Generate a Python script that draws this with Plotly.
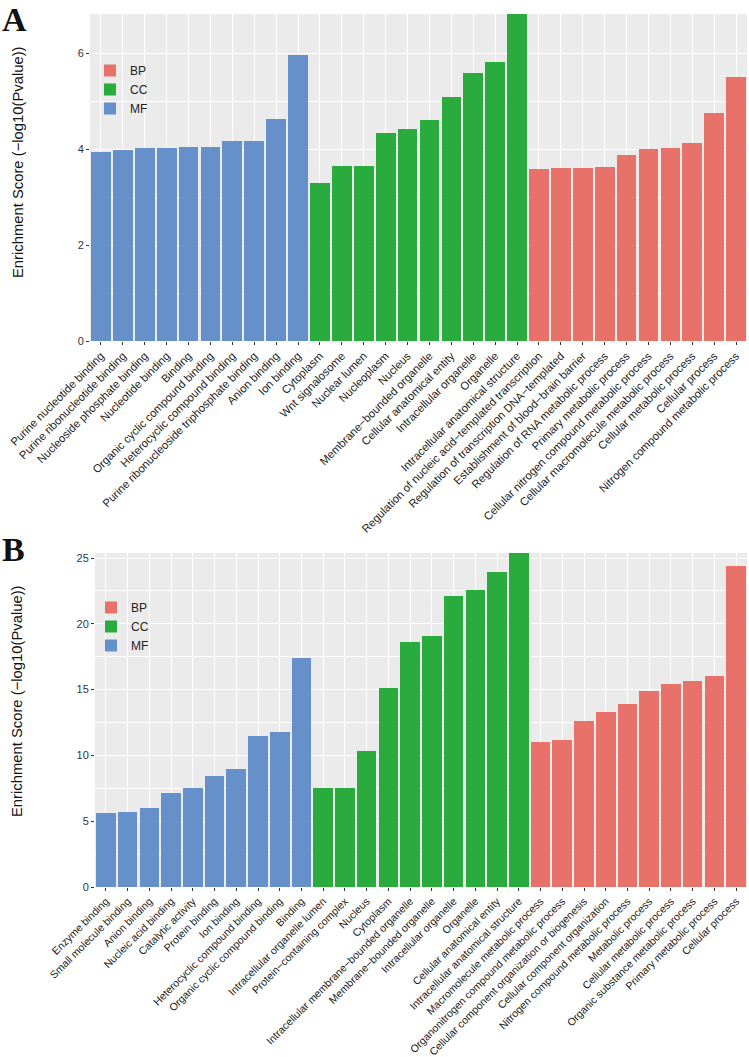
import plotly.graph_objects as go

# ---------------- Panel A data ----------------
a_mf_terms = ["Purine nucleotide binding", "Purine ribonucleotide binding",
              "Nucleoside phosphate binding", "Nucleotide binding", "Binding",
              "Organic cyclic compound binding", "Heterocyclic compound binding",
              "Purine ribonucleoside triphosphate binding", "Anion binding", "Ion binding"]
a_mf_scores = [3.95, 3.98, 4.02, 4.02, 4.04, 4.05, 4.17, 4.18, 4.64, 5.96]

a_cc_terms = ["Cytoplasm", "Wnt signalosome", "Nuclear lumen", "Nucleoplasm", "Nucleus",
              "Membrane−bounded organelle", "Cellular anatomical entity",
              "Intracellular organelle", "Organelle", "Intracellular anatomical structure"]
a_cc_scores = [3.30, 3.65, 3.65, 4.34, 4.42, 4.61, 5.09, 5.59, 5.82, 6.82]

a_bp_terms = ["Regulation of nucleic acid−templated transcription",
              "Regulation of transcription DNA−templated",
              "Establishment of blood−brain barrier",
              "Regulation of RNA metabolic process", "Primary metabolic process",
              "Cellular nitrogen compound metabolic process",
              "Cellular macromolecule metabolic process", "Cellular metabolic process",
              "Cellular process", "Nitrogen compound metabolic process"]
a_bp_scores = [3.58, 3.60, 3.60, 3.63, 3.88, 4.00, 4.02, 4.13, 4.75, 5.50]

# ---------------- Panel B data ----------------
b_mf_terms = ["Enzyme binding", "Small molecule binding", "Anion binding",
              "Nucleic acid binding", "Catalytic activity", "Protein binding",
              "Ion binding", "Heterocyclic compound binding",
              "Organic cyclic compound binding", "Binding"]
b_mf_scores = [5.63, 5.71, 6.04, 7.16, 7.54, 8.43, 8.93, 11.50, 11.75, 17.39]

b_cc_terms = ["Intracellular organelle lumen", "Protein−containing complex", "Nucleus",
              "Cytoplasm", "Intracellular membrane−bounded organelle",
              "Membrane−bounded organelle", "Intracellular organelle", "Organelle",
              "Cellular anatomical entity", "Intracellular anatomical structure"]
b_cc_scores = [7.49, 7.54, 10.33, 15.15, 18.65, 19.09, 22.13, 22.59, 23.96, 25.38]

b_bp_terms = ["Macromolecule metabolic process",
              "Organonitrogen compound metabolic process",
              "Cellular component organization or biogenesis",
              "Cellular component organization", "Nitrogen compound metabolic process",
              "Metabolic process", "Cellular metabolic process",
              "Organic substance metabolic process", "Primary metabolic process",
              "Cellular process"]
b_bp_scores = [11.04, 11.19, 12.59, 13.32, 13.91, 14.87, 15.43, 15.63, 16.07, 24.42]

colors = {"BP": "#E8716A", "CC": "#29AB3E", "MF": "#6590C9"}
ytitle = "Enrichment Score (−log10(Pvalue))"
FONT = "Liberation Sans, Arial, sans-serif"

W, H = 749, 1057

def px_x(p):
    return p / W

def px_y(p):
    return 1 - p / H

fig = go.Figure()

panels = [
    dict(xa="x", ya="y", legend="legend",
         groups=[("BP", a_bp_terms, a_bp_scores), ("CC", a_cc_terms, a_cc_scores),
                 ("MF", a_mf_terms, a_mf_scores)],
         order=a_mf_terms + a_cc_terms + a_bp_terms),
    dict(xa="x2", ya="y2", legend="legend2",
         groups=[("BP", b_bp_terms, b_bp_scores), ("CC", b_cc_terms, b_cc_scores),
                 ("MF", b_mf_terms, b_mf_scores)],
         order=b_mf_terms + b_cc_terms + b_bp_terms),
]

for p in panels:
    for name, terms, scores in p["groups"]:
        fig.add_trace(go.Bar(x=terms, y=scores, name=name, xaxis=p["xa"], yaxis=p["ya"],
                             marker=dict(color=colors[name], line=dict(width=0)),
                             legend=p["legend"], opacity=1))

axis_common = dict(showline=False, zeroline=False, ticks="outside", ticklen=3,
                   tickcolor="#333333", gridcolor="white", gridwidth=1.2,
                   automargin=False)

fig.update_layout(
    width=W, height=H,
    margin=dict(l=0, r=0, t=0, b=0, autoexpand=False),
    paper_bgcolor="white",
    plot_bgcolor="#EBEBEB",
    barmode="stack",
    bargap=0.1,
    font=dict(family=FONT, color="#222222"),
    xaxis=dict(domain=[px_x(90), px_x(747)], anchor="y", type="category",
               categoryorder="array", categoryarray=panels[0]["order"],
               range=[-0.5, 29.5], tickangle=-45, showgrid=True,
               tickfont=dict(size=11.3, color="#222222"), **axis_common),
    yaxis=dict(domain=[px_y(341), px_y(14)], anchor="x", range=[0, 6.82],
               tickvals=[0, 2, 4, 6], showgrid=True,
               minor=dict(tickvals=[1, 3, 5], showgrid=True, gridcolor="white",
                          gridwidth=0.6, ticks=""),
               tickfont=dict(size=11, color="#333333"), **axis_common),
    xaxis2=dict(domain=[px_x(95), px_x(747)], anchor="y2", type="category",
                categoryorder="array", categoryarray=panels[1]["order"],
                range=[-0.5, 29.5], tickangle=-45, showgrid=True,
                tickfont=dict(size=10.6, color="#222222"), **axis_common),
    yaxis2=dict(domain=[px_y(887), px_y(553)], anchor="x2", range=[0, 25.38],
                tickvals=[0, 5, 10, 15, 20, 25], showgrid=True,
                minor=dict(tickvals=[2.5, 7.5, 12.5, 17.5, 22.5], showgrid=True,
                           gridcolor="white", gridwidth=0.6, ticks=""),
                tickfont=dict(size=11, color="#333333"), **axis_common),
    legend=dict(x=px_x(90), y=px_y(56), xanchor="left", yanchor="top",
                bgcolor="rgba(0,0,0,0)", font=dict(size=12, color="#222222"),
                itemwidth=30, tracegroupgap=0, traceorder="normal"),
    legend2=dict(x=px_x(91), y=px_y(593), xanchor="left", yanchor="top",
                 bgcolor="rgba(0,0,0,0)", font=dict(size=12, color="#222222"),
                 itemwidth=30, tracegroupgap=0, traceorder="normal"),
    showlegend=True,
    annotations=[
        dict(text="<b>A</b>", x=px_x(1), y=px_y(0), xref="paper", yref="paper",
             xanchor="left", yanchor="top", showarrow=False, borderpad=0,
             font=dict(family="Liberation Serif, Times New Roman, serif", size=34,
                       color="#111111")),
        dict(text="<b>B</b>", x=px_x(1), y=px_y(530), xref="paper", yref="paper",
             xanchor="left", yanchor="top", showarrow=False, borderpad=0,
             font=dict(family="Liberation Serif, Times New Roman, serif", size=34,
                       color="#111111")),
        dict(text=ytitle, x=px_x(18), y=px_y(162), xref="paper", yref="paper",
             xanchor="center", yanchor="middle", textangle=-90, showarrow=False,
             font=dict(size=14.8, color="#111111")),
        dict(text=ytitle, x=px_x(17), y=px_y(701), xref="paper", yref="paper",
             xanchor="center", yanchor="middle", textangle=-90, showarrow=False,
             font=dict(size=14.8, color="#111111")),
    ],
)

fig.write_html(
    "out.html",
    config={"displayModeBar": False},
    post_script="document.body.style.margin='0';document.body.style.overflow='hidden';",
)
